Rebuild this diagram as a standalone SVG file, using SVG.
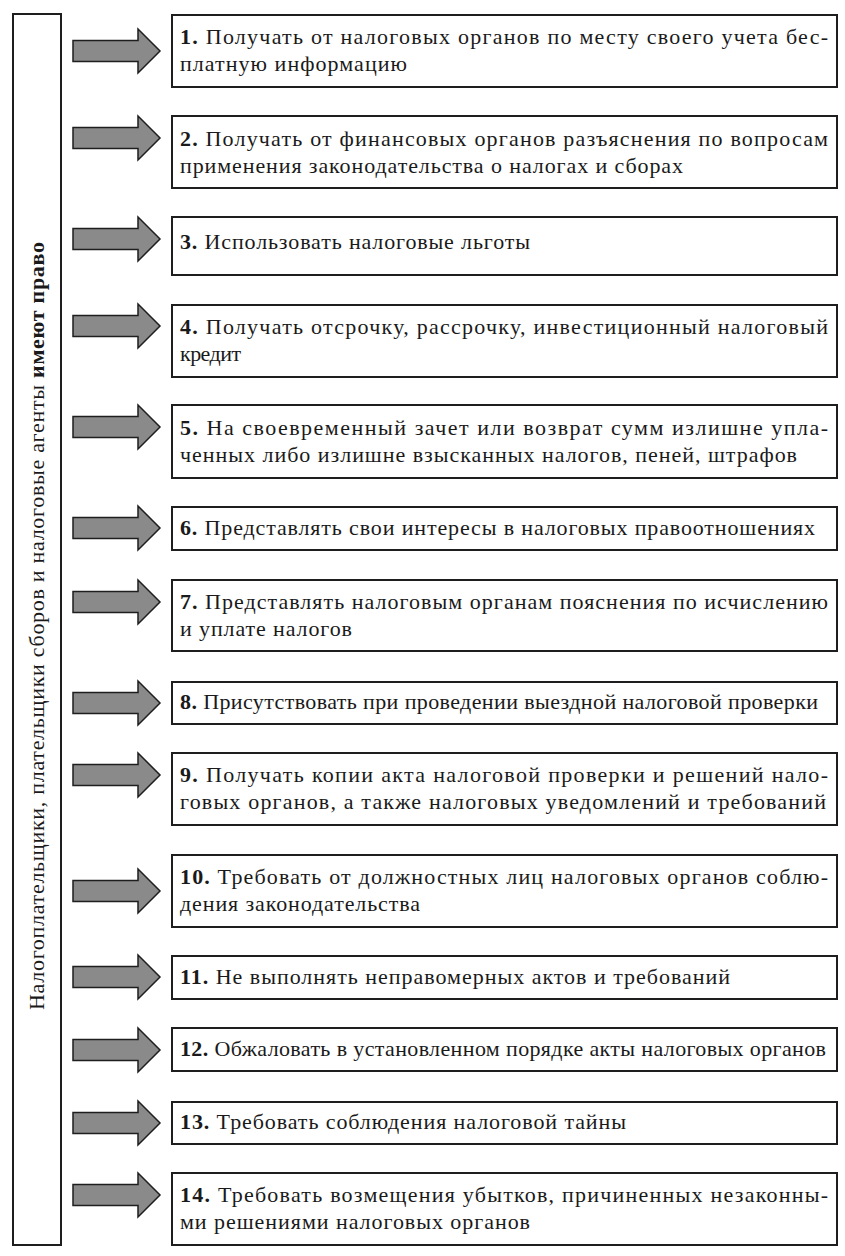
<svg xmlns="http://www.w3.org/2000/svg" width="845" height="1256" viewBox="0 0 845 1256">
<style>
.bx{fill:#fff;stroke:#1e1e1e;stroke-width:2}
.ar{fill:#8a8a8a;stroke:#1e1e1e;stroke-width:1.5;stroke-linejoin:miter}
.t{font-family:"Liberation Serif","Times New Roman",serif;font-size:22px;fill:#1a1a1a}
.b{font-weight:bold}
</style>
<defs>
<path id="arrow" d="M73,-10.5 H138 V-22 L160,0 L138,22 V10.5 H73 Z"/>
</defs>
<rect width="845" height="1256" fill="#fff"/>
<g id="subject">
<rect class="bx" x="13" y="14" width="48" height="1231"/>
<text class="t" transform="translate(44,1010) rotate(-90)" textLength="768" lengthAdjust="spacing">Налогоплательщики, плательщики сборов и налоговые агенты <tspan class="b">имеют право</tspan></text>
</g>
<g id="connectors">
<use href="#arrow" class="ar" y="51"/>
<use href="#arrow" class="ar" y="138"/>
<use href="#arrow" class="ar" y="239"/>
<use href="#arrow" class="ar" y="326"/>
<use href="#arrow" class="ar" y="427"/>
<use href="#arrow" class="ar" y="528"/>
<use href="#arrow" class="ar" y="602"/>
<use href="#arrow" class="ar" y="703"/>
<use href="#arrow" class="ar" y="775"/>
<use href="#arrow" class="ar" y="891"/>
<use href="#arrow" class="ar" y="977"/>
<use href="#arrow" class="ar" y="1050"/>
<use href="#arrow" class="ar" y="1123"/>
<use href="#arrow" class="ar" y="1195"/>
</g>
<g id="n1"><rect class="bx" x="172" y="15" width="665" height="72"/>
<text class="t" x="180" y="44" textLength="648" lengthAdjust="spacing"><tspan class="b">1.</tspan> Получать от налоговых органов по месту своего учета бес-</text>
<text class="t" x="180" y="71" textLength="227" lengthAdjust="spacing">платную информацию</text></g>
<g id="n2"><rect class="bx" x="172" y="116" width="665" height="72"/>
<text class="t" x="180" y="146" textLength="648" lengthAdjust="spacing"><tspan class="b">2.</tspan> Получать от финансовых органов разъяснения по вопросам</text>
<text class="t" x="180" y="173" textLength="503" lengthAdjust="spacing">применения законодательства о налогах и сборах</text></g>
<g id="n3"><rect class="bx" x="172" y="217" width="665" height="58"/>
<text class="t" x="180" y="249" textLength="350" lengthAdjust="spacing"><tspan class="b">3.</tspan> Использовать налоговые льготы</text></g>
<g id="n4"><rect class="bx" x="172" y="305" width="665" height="72"/>
<text class="t" x="180" y="334" textLength="648" lengthAdjust="spacing"><tspan class="b">4.</tspan> Получать отсрочку, рассрочку, инвестиционный налоговый</text>
<text class="t" x="180" y="361" textLength="61" lengthAdjust="spacing">кредит</text></g>
<g id="n5"><rect class="bx" x="172" y="405" width="665" height="73"/>
<text class="t" x="180" y="435" textLength="648" lengthAdjust="spacing"><tspan class="b">5.</tspan> На своевременный зачет или возврат сумм излишне упла-</text>
<text class="t" x="180" y="462" textLength="617" lengthAdjust="spacing">ченных либо излишне взысканных налогов, пеней, штрафов</text></g>
<g id="n6"><rect class="bx" x="172" y="507" width="665" height="43"/>
<text class="t" x="180" y="535" textLength="635" lengthAdjust="spacing"><tspan class="b">6.</tspan> Представлять свои интересы в налоговых правоотношениях</text></g>
<g id="n7"><rect class="bx" x="172" y="580" width="665" height="71"/>
<text class="t" x="180" y="609" textLength="648" lengthAdjust="spacing"><tspan class="b">7.</tspan> Представлять налоговым органам пояснения по исчислению</text>
<text class="t" x="180" y="636" textLength="172" lengthAdjust="spacing">и уплате налогов</text></g>
<g id="n8"><rect class="bx" x="172" y="682" width="665" height="42"/>
<text class="t" x="180" y="709" textLength="638" lengthAdjust="spacing"><tspan class="b">8.</tspan> Присутствовать при проведении выездной налоговой проверки</text></g>
<g id="n9"><rect class="bx" x="172" y="753" width="665" height="72"/>
<text class="t" x="180" y="782" textLength="648" lengthAdjust="spacing"><tspan class="b">9.</tspan> Получать копии акта налоговой проверки и решений нало-</text>
<text class="t" x="180" y="809" textLength="646" lengthAdjust="spacing">говых органов, а также налоговых уведомлений и требований</text></g>
<g id="n10"><rect class="bx" x="172" y="855" width="665" height="72"/>
<text class="t" x="180" y="884" textLength="648" lengthAdjust="spacing"><tspan class="b">10.</tspan> Требовать от должностных лиц налоговых органов соблю-</text>
<text class="t" x="180" y="911" textLength="240" lengthAdjust="spacing">дения законодательства</text></g>
<g id="n11"><rect class="bx" x="172" y="956" width="665" height="43"/>
<text class="t" x="180" y="984" textLength="550" lengthAdjust="spacing"><tspan class="b">11.</tspan> Не выполнять неправомерных актов и требований</text></g>
<g id="n12"><rect class="bx" x="172" y="1028" width="665" height="43"/>
<text class="t" x="180" y="1056" textLength="646" lengthAdjust="spacing"><tspan class="b">12.</tspan> Обжаловать в установленном порядке акты налоговых органов</text></g>
<g id="n13"><rect class="bx" x="172" y="1102" width="665" height="42"/>
<text class="t" x="180" y="1129" textLength="446" lengthAdjust="spacing"><tspan class="b">13.</tspan> Требовать соблюдения налоговой тайны</text></g>
<g id="n14"><rect class="bx" x="172" y="1173" width="665" height="72"/>
<text class="t" x="180" y="1202" textLength="648" lengthAdjust="spacing"><tspan class="b">14.</tspan> Требовать возмещения убытков, причиненных незаконны-</text>
<text class="t" x="180" y="1229" textLength="350" lengthAdjust="spacing">ми решениями налоговых органов</text></g>
</svg>
